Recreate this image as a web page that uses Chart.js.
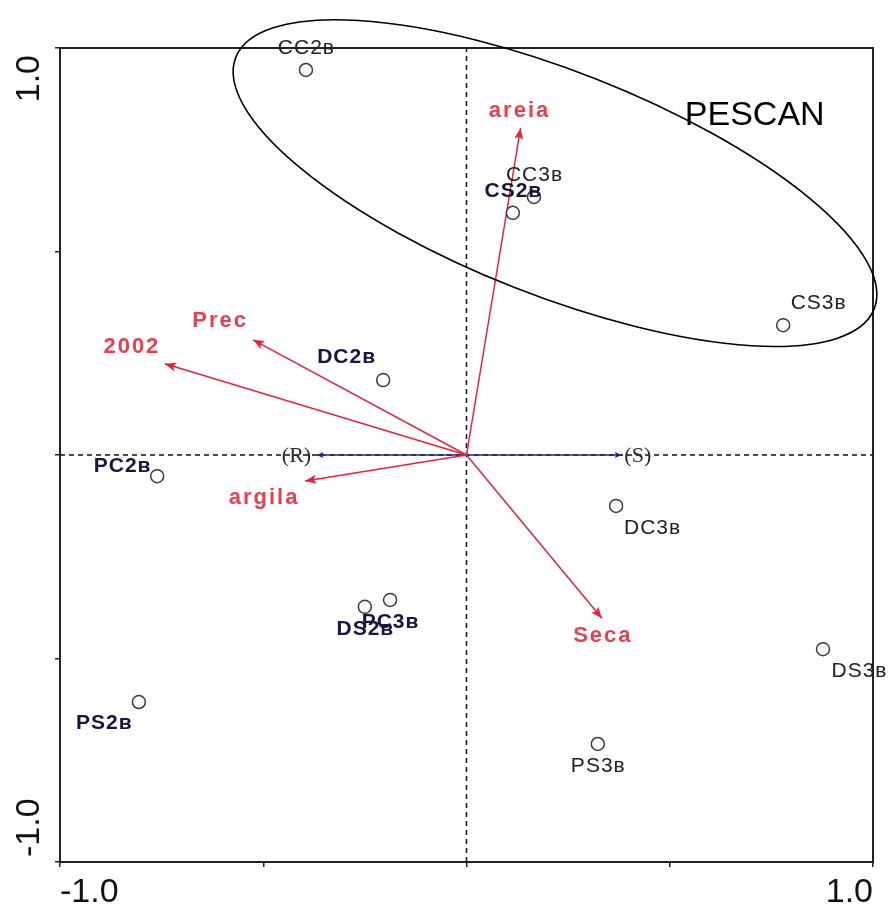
<!DOCTYPE html>
<html>
<head>
<meta charset="utf-8">
<script src="https://cdn.jsdelivr.net/npm/chart.js@4/dist/chart.umd.min.js"></script>
<style>
  html, body { margin: 0; padding: 0; background: #ffffff; }
  canvas { display: block; }
</style>
</head>
<body>
<canvas id="biplot" width="890" height="909"></canvas>
<script>
// Sample (site) scores
const siteNames = ['CC2ʙ', 'CC3ʙ', 'CS2ʙ', 'CS3ʙ', 'DC2ʙ', 'DC3ʙ', 'DS2ʙ', 'DS3ʙ', 'PC2ʙ', 'PC3ʙ', 'PS2ʙ', 'PS3ʙ'];
const siteX = [-0.395, 0.166, 0.114, 0.779, -0.205, 0.368, -0.250, 0.877, -0.761, -0.188, -0.806, 0.323];
const siteY = [0.946, 0.634, 0.595, 0.319, 0.184, -0.125, -0.373, -0.477, -0.052, -0.356, -0.607, -0.710];

// Environmental variable arrows
const envNames = ['areia', 'Prec', '2002', 'argila', 'Seca'];
const envX = [0.133, -0.525, -0.742, -0.397, 0.333];
const envY = [0.803, 0.283, 0.224, -0.064, -0.401];

// Supplementary axis arrows
const suppNames = ['(R)', '(S)'];
const suppX = [-0.369, 0.382];
const suppY = [0, 0];

// Axis ticks
const tickValues = [-1, -0.5, 0, 0.5, 1];
const tickText = { '-1': '-1.0', '1': '1.0' };

// Label placement around each site marker
const siteLabelPlace = ['N', 'N', 'N', 'NE', 'NW', 'SE', 'S', 'SE', 'W', 'S', 'SW', 'S'];
const siteLabelBold = [false, false, true, false, true, false, true, false, true, true, true, false];
const placeShift = {
  N: [0, -22], S: [0, 22], NE: [35, -22], NW: [-37, -23],
  SE: [36, 22], SW: [-35, 21], W: [-35, -10]
};
const envLabelShift = [[-2, -17], [-34, -19], [-34, -17], [-42, 17], [0, 18]];
const suppLabelShift = [[-20, 1], [16, 1]];

// Group outline and its caption
const groupOutline = { cx: 0.2177, cy: 0.668, rx: 0.844, ry: 0.2755, angleDeg: 21.5 };
const groupCaption = { text: 'PESCAN', x: 0.709, y: 0.833 };

const RED_LINE = '#e9213d';
const RED_TEXT = '#e6414f';
const BLUE = '#23238f';
const SANS = '"Liberation Sans", Arial, sans-serif';
const SERIF = '"Liberation Serif", "Times New Roman", serif';

const datasets = [];

// dashed zero lines
datasets.push({
  type: 'line', label: 'zero-v', order: 5,
  data: [{ x: 0, y: -1 }, { x: 0, y: 1 }],
  borderColor: '#111', borderWidth: 1.5, borderDash: [5, 4],
  pointRadius: 0, xAxisID: 'x', yAxisID: 'y'
});
datasets.push({
  type: 'line', label: 'zero-h', order: 5,
  data: [{ x: -1, y: 0 }, { x: 1, y: 0 }],
  borderColor: '#111', borderWidth: 1.5, borderDash: [5, 4],
  pointRadius: 0, xAxisID: 'x', yAxisID: 'y'
});

// supplementary arrows (blue)
suppNames.forEach((n, i) => {
  datasets.push({
    type: 'line', label: n, order: 3, kind: 'supp', idx: i,
    data: [{ x: 0, y: 0 }, { x: suppX[i], y: suppY[i] }],
    borderColor: BLUE, borderWidth: 1.5, pointRadius: 0,
    xAxisID: 'x', yAxisID: 'y'
  });
});

// environmental arrows (red)
envNames.forEach((n, i) => {
  datasets.push({
    type: 'line', label: n, order: 2, kind: 'env', idx: i,
    data: [{ x: 0, y: 0 }, { x: envX[i], y: envY[i] }],
    borderColor: RED_LINE, borderWidth: 1.5, pointRadius: 0,
    xAxisID: 'x', yAxisID: 'y'
  });
});

// sites
datasets.push({
  type: 'scatter', label: 'sites', order: 0, kind: 'sites',
  data: siteX.map((x, i) => ({ x: x, y: siteY[i] })),
  pointRadius: 6.5, pointBorderWidth: 1.5,
  pointBorderColor: '#3a3a3a', pointBackgroundColor: '#ffffff',
  xAxisID: 'x', yAxisID: 'y'
});

function arrowHead(ctx, x0, y0, x1, y1, len, half, color) {
  const a = Math.atan2(y1 - y0, x1 - x0);
  ctx.save();
  ctx.translate(x1, y1);
  ctx.rotate(a);
  ctx.beginPath();
  ctx.moveTo(0, 0);
  ctx.lineTo(-len, -half);
  ctx.lineTo(-len * 0.8, 0);
  ctx.lineTo(-len, half);
  ctx.closePath();
  ctx.fillStyle = color;
  ctx.fill();
  ctx.restore();
}

const overlay = {
  id: 'biplotOverlay',
  afterDatasetsDraw(chart) {
    const ctx = chart.ctx;
    const sx = chart.scales.x, sy = chart.scales.y;

    // arrowheads and variable names
    chart.data.datasets.forEach((ds, di) => {
      if (ds.kind !== 'env' && ds.kind !== 'supp') return;
      const pts = chart.getDatasetMeta(di).data;
      const p0 = pts[0], p1 = pts[1];
      if (ds.kind === 'env') {
        arrowHead(ctx, p0.x, p0.y, p1.x, p1.y, 11, 4.5, RED_LINE);
        const sh = envLabelShift[ds.idx];
        ctx.save();
        ctx.font = 'bold 22px ' + SANS;
        ctx.letterSpacing = '2px';
        ctx.fillStyle = RED_TEXT;
        ctx.textAlign = 'center';
        ctx.textBaseline = 'middle';
        ctx.fillText(ds.label, p1.x + sh[0] + 1, p1.y + sh[1]);
        ctx.restore();
      } else {
        arrowHead(ctx, p0.x, p0.y, p1.x, p1.y, 7, 3, BLUE);
        const sh = suppLabelShift[ds.idx];
        ctx.save();
        ctx.font = '22px ' + SERIF;
        ctx.fillStyle = '#2b2b2b';
        ctx.textAlign = 'center';
        ctx.textBaseline = 'middle';
        ctx.fillText(ds.label, p1.x + sh[0], p1.y + sh[1]);
        ctx.restore();
      }
    });

    // site names
    const si = chart.data.datasets.findIndex(d => d.kind === 'sites');
    const sp = chart.getDatasetMeta(si).data;
    ctx.save();
    ctx.textAlign = 'center';
    ctx.textBaseline = 'middle';
    ctx.letterSpacing = '1px';
    sp.forEach((p, i) => {
      const sh = placeShift[siteLabelPlace[i]];
      ctx.font = (siteLabelBold[i] ? 'bold ' : '') + '21px ' + SANS;
      ctx.fillStyle = siteLabelBold[i] ? '#1d1242' : '#222222';
      ctx.fillText(siteNames[i], p.x + sh[0] + 0.5, p.y + sh[1]);
    });
    ctx.restore();

    // group outline
    const cx = sx.getPixelForValue(groupOutline.cx);
    const cy = sy.getPixelForValue(groupOutline.cy);
    const ux = Math.abs(sx.getPixelForValue(1) - sx.getPixelForValue(0));
    ctx.save();
    ctx.beginPath();
    ctx.ellipse(cx, cy, groupOutline.rx * ux, groupOutline.ry * ux,
      groupOutline.angleDeg * Math.PI / 180, 0, Math.PI * 2);
    ctx.strokeStyle = '#000';
    ctx.lineWidth = 1.6;
    ctx.stroke();
    ctx.font = '34px ' + SANS;
    ctx.fillStyle = '#000';
    ctx.textAlign = 'center';
    ctx.textBaseline = 'middle';
    ctx.fillText(groupCaption.text, sx.getPixelForValue(groupCaption.x), sy.getPixelForValue(groupCaption.y));
    ctx.restore();
  }
};

const tickFont = { family: SANS, size: 34 };
const labelFor = v => tickText[String(v)] || '';
const fixWidth = w => s => { s.width = w; s.paddingTop = 0; s.paddingBottom = 0; };
const fixHeight = h => s => { s.height = h; s.paddingLeft = 0; s.paddingRight = 0; };

new Chart(document.getElementById('biplot'), {
  data: { datasets: datasets },
  options: {
    responsive: false,
    animation: false,
    events: [],
    devicePixelRatio: 1,
    layout: { padding: { left: 0, top: 48, right: 17, bottom: 0 } },
    plugins: { legend: { display: false }, tooltip: { enabled: false } },
    scales: {
      x: {
        type: 'linear', position: 'bottom', min: -1, max: 1,
        afterBuildTicks: s => { s.ticks = tickValues.map(v => ({ value: v })); },
        ticks: {
          callback: labelFor, align: 'inner', autoSkip: false,
          maxRotation: 0, minRotation: 0, padding: 5,
          font: tickFont, color: '#111'
        },
        grid: { drawOnChartArea: false, drawTicks: true, tickLength: 5, color: '#222', lineWidth: 1.5 },
        border: { display: true, color: '#222', width: 2 },
        afterFit: fixHeight(47)
      },
      xTop: {
        type: 'linear', position: 'top', min: -1, max: 1,
        ticks: { display: false },
        grid: { display: false },
        border: { display: true, color: '#222', width: 2 },
        afterFit: fixHeight(0)
      },
      y: {
        type: 'linear', position: 'left', min: -1, max: 1, weight: 0,
        afterBuildTicks: s => { s.ticks = tickValues.map(v => ({ value: v })); },
        ticks: {
          callback: v => (v === 1 ? tickText['1'] : ''),
          autoSkip: false, minRotation: 90, maxRotation: 90,
          crossAlign: 'near', padding: 25, labelOffset: 7,
          font: tickFont, color: '#111'
        },
        grid: { drawOnChartArea: false, drawTicks: true, tickLength: 5, color: '#222', lineWidth: 1.5 },
        border: { display: true, color: '#222', width: 2 },
        afterFit: fixWidth(60)
      },
      yLow: {
        type: 'linear', position: 'left', min: -1, max: 1, weight: 1,
        afterBuildTicks: s => { s.ticks = tickValues.map(v => ({ value: v })); },
        ticks: {
          callback: v => (v === -1 ? tickText['-1'] : ''),
          autoSkip: false, minRotation: 90, maxRotation: 90,
          mirror: true, crossAlign: 'near', padding: 30, labelOffset: -5,
          font: tickFont, color: '#111'
        },
        grid: { display: false },
        border: { display: false },
        afterFit: fixWidth(0)
      },
      yRight: {
        type: 'linear', position: 'right', min: -1, max: 1,
        ticks: { display: false },
        grid: { display: false },
        border: { display: true, color: '#222', width: 2 },
        afterFit: fixWidth(0)
      }
    }
  },
  plugins: [overlay]
});
</script>
</body>
</html>
